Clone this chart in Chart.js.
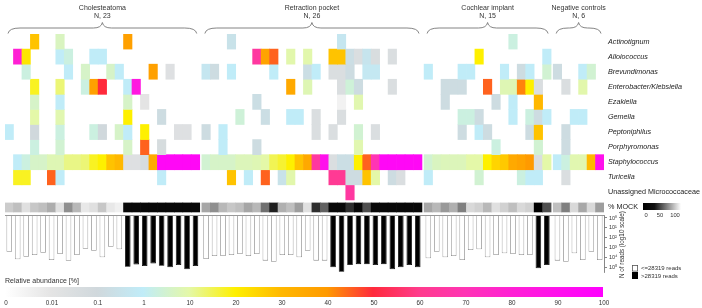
<!DOCTYPE html>
<html>
<head>
<meta charset="utf-8">
<script src="https://cdn.jsdelivr.net/npm/chart.js@4.4.1/dist/chart.umd.min.js"></script>
<style>
  html, body { margin: 0; padding: 0; background: #fff; }
  #wrap { width: 702px; height: 308px; }
</style>
</head>
<body>
<div id="wrap"><canvas id="chart" width="702" height="308"></canvas></div>
<script>
// Sample groups (columns, left to right)
const groupNames = ['Cholesteatoma', 'Retraction pocket', 'Cochlear implant', 'Negative controls'];
const groupSizes = [23, 26, 15, 6];

// Row labels
const taxa = ['Actinotignum', 'Alloiococcus', 'Brevundimonas', 'Enterobacter/Klebsiella', 'Ezakiella',
  'Gemella', 'Peptoniphilus', 'Porphyromonas', 'Staphylococcus', 'Turicella', 'Unassigned Micrococcaceae'];

// Relative abundance [%] per sample, one line per group
const actinotignum = [
  0, 0, 0, 28, 0, 0, 5, 0, 0, 0, 0, 0, 0, 0, 38, 0, 0, 0, 0, 0, 0, 0, 0,
  0, 0, 0, 0.3, 0, 0, 0, 0, 0, 0, 0, 0, 0, 0, 0, 0, 0.5, 0, 0, 0, 0, 0, 0, 0, 0, 0,
  0, 0, 0, 0, 0, 0, 0, 0, 0, 0, 2, 0, 0, 0, 0,
  0, 0, 0, 0, 0, 0];
const alloiococcus = [
  0, 80, 22, 0, 0, 0, 1, 2, 0, 0, 1, 1, 0, 0, 0, 0, 0, 0, 0, 0, 0, 0, 0,
  0, 0, 0, 0, 0, 0, 65, 37, 45, 0, 9, 0, 9, 0, 0, 28, 28, 0.2, 0.03, 0.4, 0.04, 0, 0.03, 0, 0, 0,
  0, 0, 0, 0, 0, 0, 20, 0, 0, 0, 0, 0, 0, 0, 1,
  0, 0, 0, 0, 0, 0];
const brevundimonas = [
  0, 0, 2, 0, 0, 0, 0, 1, 0, 4, 0, 0, 4, 1, 0, 0, 0, 38, 0, 0.02, 0, 0, 0,
  0.5, 0.15, 0, 1, 0, 0, 0, 0, 1, 0, 0, 0, 0.2, 1, 0, 0.03, 0.03, 0.15, 0, 0.6, 0.6, 0, 0, 0, 0, 0,
  1, 0, 0, 0, 1, 1, 0, 0, 0, 1, 0, 0.15, 1, 0, 3,
  0.15, 0, 0, 1, 3, 0];
const enterobacter = [
  0, 0, 0, 18, 0, 0, 13, 0, 0, 2, 38, 50, 0, 0, 1, 85, 0, 0, 0, 0, 0, 0, 0,
  0, 0, 0, 0, 0, 0, 0, 0, 0, 0, 35, 0, 7, 0, 0, 0, 0.03, 2.5, 0.15, 0, 0, 0, 0.03, 0, 0, 0,
  0, 0, 0.15, 0.15, 0.15, 0, 0, 45, 0, 7, 7, 42, 20, 0.03, 0,
  0, 0.03, 0, 9, 0, 0];
const ezakiella = [
  0, 0, 0, 4, 0, 0, 1, 0, 0, 0, 0, 0, 0, 0, 4, 0, 0.01, 0, 0, 0, 0, 0, 0,
  0, 0, 0, 0, 0, 0, 0.2, 0, 0, 0, 0, 0, 0, 0, 0, 0, 0.005, 0, 8, 0, 0, 0, 0, 0, 0, 0,
  0, 0, 0.15, 0, 0, 0, 0, 0, 0.15, 0, 1, 0, 0, 30, 0,
  0, 0, 0, 0, 0, 0];
const gemella = [
  0, 0, 0, 10, 0, 0, 8, 0, 0, 0, 0, 0, 0, 0, 20, 0, 0, 0, 0.15, 0, 0, 0, 0,
  0, 0, 0, 0, 2.5, 0, 0, 0.2, 0, 0, 1, 1, 0, 0.03, 0, 0, 0.03, 0, 0, 0, 0, 0, 0, 0, 0, 0,
  0, 0, 0, 0, 2, 2, 0.15, 0, 0, 0, 1, 0, 2, 0.15, 1,
  0, 0, 1, 1, 0, 0];
const peptoniphilus = [
  1, 0, 0, 0.1, 0, 0, 2, 0, 0, 0, 2, 0.1, 0, 4, 1, 0, 20, 0, 0, 0, 0.02, 0.02, 0,
  0.15, 0, 1, 0, 0, 0, 0, 0, 0, 0, 0, 0, 0, 0.03, 0, 0.03, 0, 0, 3, 0, 0.03, 0, 0, 0, 0, 0,
  0, 0, 0, 0, 0.15, 0, 1, 0.15, 0, 0, 0, 0, 0.15, 28, 0,
  0, 0.15, 0, 0, 0, 0];
const porphyromonas = [
  0, 0, 0, 2, 0, 0, 3, 0, 0, 0, 0, 0, 0, 0, 4, 0, 45, 0, 0.05, 0, 0, 0, 0,
  0, 0, 1, 0, 0, 0, 0.15, 0, 0, 0, 0, 0, 0, 0, 0, 0, 0, 0, 8, 0, 0, 0, 0, 0, 0, 0,
  0, 0, 0, 0, 0, 0, 0, 0, 2, 0, 0, 0, 0, 3, 0,
  0, 0.15, 0, 0, 0, 0];
const staphylococcus = [
  0, 1, 2, 4, 4, 7, 7, 12, 12, 13, 18, 20, 28, 30, 0.02, 0.02, 0.05, 35, 95, 95, 95, 95, 95,
  3, 4, 4, 4, 6, 6, 7, 10, 15, 17, 20, 28, 35, 65, 90, 0.03, 0.2, 0.2, 20, 45, 70, 95, 95, 95, 95, 95,
  3, 5, 6, 6, 6, 10, 10, 20, 25, 27, 35, 37, 40, 0.03, 10,
  1, 2, 8, 8, 30, 90];
const turicella = [
  0, 18, 18, 0, 0, 45, 1, 0, 0, 0, 0, 0, 0, 0, 0, 0, 0, 0, 1, 0, 0, 0, 0,
  0, 0, 0, 28, 0, 1, 0, 45, 0, 0.3, 9, 0, 0, 0, 0, 62, 62, 0.15, 0.15, 28, 10, 0, 0.15, 0.03, 0, 0,
  1, 0, 0, 0, 0, 0, 3, 0, 0, 0, 0, 2, 1, 1, 0,
  0, 0.03, 0, 0, 0, 0];
const micrococcaceae = [
  0, 0, 0, 0, 0, 0, 0, 0, 0, 0, 0, 0, 0, 0, 0, 0, 0, 0, 0, 0, 0, 0, 0,
  0, 0, 0, 0, 0, 0, 0, 0, 0, 0, 0, 0, 0, 0, 0, 0, 0, 65, 0, 0, 0, 0, 0, 0, 0, 0,
  0, 0, 0, 0, 0, 0, 0, 0, 0, 0, 0, 0, 0, 0, 0,
  0, 0, 0, 0, 0, 0];

// % MOCK per sample
const mockPct = [
  80, 75, 88, 78, 75, 68, 88, 56, 72, 91, 88, 78, 91, 94, 3, 3, 3, 3, 3, 3, 3, 3, 3,
  65, 56, 72, 78, 75, 65, 72, 44, 12, 69, 75, 62, 88, 18, 38, 3, 3, 18, 3, 31, 3, 3, 3, 3, 3, 3,
  65, 72, 60, 69, 50, 85, 82, 72, 88, 82, 75, 85, 82, 0, 31,
  75, 50, 85, 66, 85, 62];

// N of reads per sample
const reads = [
  2500, 14800, 8100, 5500, 3200, 17500, 4300, 20500, 5500, 1260, 2000, 9300, 790, 1450,
  83000, 48000, 71000, 38000, 66000, 95000, 56000, 152000, 71000,
  13800, 6900, 6900, 5500, 4300, 6900, 4300, 20000, 26000, 5500, 5500, 9300, 2000, 20000, 20000,
  95000, 260000, 56000, 45000, 45000, 56000, 45000, 150000, 95000, 56000, 95000,
  11800, 2500, 9300, 6900, 17500, 1700, 1450, 9300, 5500, 3700, 4300, 5500, 5500, 120000, 56000,
  20000, 26000, 3700, 17500, 2500, 17500];
const readThreshold = 28319;
const readTicks = [1, 10, 100, 1000, 10000, 100000];

// Colour scale
const abundanceTicks = ['0', '0.01', '0.1', '1', '10', '20', '30', '40', '50', '60', '70', '80', '90', '100'];
const abundanceColors = ['#ffffff', '#e4e4e4', '#d0d8dc', '#c0ecf8', '#e4f8a8', '#fef000', '#ffb800',
  '#ff9a00', '#ff2a3c', '#ff3c8c', '#ff34b4', '#ff20d4', '#ff10ec', '#ff00ff'];

const FONT = '"Liberation Sans", Arial, sans-serif';
const heatRows = [actinotignum, alloiococcus, brevundimonas, enterobacter, ezakiella, gemella,
  peptoniphilus, porphyromonas, staphylococcus, turicella, micrococcaceae];
const rowLabels = taxa.concat(['% MOCK']);
const mockRow = taxa.length;

// x position of each sample, small gap between groups
const colX = [];
groupSizes.forEach((n, g) => {
  for (let k = 0; k < n; k++) colX.push(colX.length + g * 0.25);
});

function hexToRgb(h) {
  const n = parseInt(h.slice(1), 16);
  return [(n >> 16) & 255, (n >> 8) & 255, n & 255];
}

// value -> position on the colour bar (0..13)
function abundancePos(v) {
  if (v <= 0) return 0;
  if (v < 0.01) return v / 0.01;
  if (v < 10) return 1 + Math.log10(v / 0.01);
  return Math.min(4 + (v - 10) / 10, 13);
}

function abundanceColor(v) {
  const t = abundancePos(v);
  const i = Math.min(Math.floor(t), abundanceColors.length - 2);
  const f = t - i;
  const a = hexToRgb(abundanceColors[i]);
  const b = hexToRgb(abundanceColors[i + 1]);
  const c = a.map((x, k) => Math.round(x + (b[k] - x) * f));
  return `rgb(${c[0]}, ${c[1]}, ${c[2]})`;
}

function mockColor(v) {
  const g = Math.round(255 * v / 100);
  return `rgb(${g}, ${g}, ${g})`;
}

// Heatmap rows as floating bars
const datasets = heatRows.map((vals, r) => {
  const pts = [];
  const colors = [];
  vals.forEach((v, n) => {
    if (v > 0) {
      pts.push({ x: colX[n], y: [r - 0.5, r + 0.5] });
      colors.push(abundanceColor(v));
    }
  });
  return {
    label: taxa[r],
    data: pts,
    backgroundColor: colors,
    yAxisID: 'y',
    grouped: false,
    barPercentage: 1,
    categoryPercentage: 1,
    borderWidth: 0,
  };
});

datasets.push({
  label: '% MOCK',
  data: mockPct.map((v, n) => ({ x: colX[n], y: [mockRow - 0.3, mockRow + 0.3] })),
  backgroundColor: mockPct.map(mockColor),
  yAxisID: 'y',
  grouped: false,
  barPercentage: 1,
  categoryPercentage: 1,
  borderWidth: 0,
});

const readsMin = 0.5;
datasets.push({
  label: 'N of reads',
  data: reads.map((v, n) => ({ x: colX[n], y: [readsMin, v] })),
  backgroundColor: reads.map((v) => (v > readThreshold ? '#000000' : '#ffffff')),
  borderColor: reads.map((v) => (v > readThreshold ? '#000000' : '#8a8a8a')),
  borderWidth: 0.8,
  borderSkipped: 'start',
  yAxisID: 'yr',
  grouped: false,
  barPercentage: 0.66,
  categoryPercentage: 1,
});

const sup = ['\u2070', '\u00b9', '\u00b2', '\u00b3', '\u2074', '\u2075'];

function drawBrace(ctx, x0, x1, yTop, yFlat, yBot) {
  const xm = (x0 + x1) / 2;
  ctx.beginPath();
  ctx.moveTo(x0, yBot);
  ctx.quadraticCurveTo(x0 + 1, yFlat, x0 + 12, yFlat);
  ctx.lineTo(xm - 9, yFlat);
  ctx.quadraticCurveTo(xm - 1, yFlat, xm, yTop);
  ctx.quadraticCurveTo(xm + 1, yFlat, xm + 9, yFlat);
  ctx.lineTo(x1 - 12, yFlat);
  ctx.quadraticCurveTo(x1 - 1, yFlat, x1, yBot);
  ctx.stroke();
}

// Headers, braces, legends and colour bar
const decorations = {
  id: 'decorations',
  afterDraw(chart) {
    const ctx = chart.ctx;
    const x = chart.scales.x;
    const yr = chart.scales.yr;
    const area = chart.chartArea;
    ctx.save();

    // group headers
    let start = 0;
    groupSizes.forEach((n, g) => {
      const left = x.getPixelForValue(colX[start] - 0.5);
      const right = x.getPixelForValue(colX[start + n - 1] + 0.5);
      const mid = (left + right) / 2;
      ctx.fillStyle = '#333';
      ctx.font = `7px ${FONT}`;
      ctx.textAlign = 'center';
      ctx.textBaseline = 'middle';
      ctx.fillText(groupNames[g], mid, 8);
      ctx.fillText(`N, ${n}`, mid, 16);
      ctx.strokeStyle = '#777';
      ctx.lineWidth = 0.9;
      drawBrace(ctx, left + 3, right - 3, 22.5, 28, 33.5);
      start += n;
    });

    // baseline of the read bars
    ctx.strokeStyle = '#999';
    ctx.lineWidth = 1;
    ctx.beginPath();
    ctx.moveTo(area.left, yr.top + 0.5);
    ctx.lineTo(area.right, yr.top + 0.5);
    ctx.stroke();

    // read axis title
    ctx.save();
    ctx.translate(622, (yr.top + yr.bottom) / 2 + 1);
    ctx.rotate(-Math.PI / 2);
    ctx.fillStyle = '#333';
    ctx.font = `6.3px ${FONT}`;
    ctx.textAlign = 'center';
    ctx.textBaseline = 'middle';
    ctx.fillText('N of reads (log10 scale)', 0, 0);
    ctx.restore();

    // read legend
    ctx.font = `6px ${FONT}`;
    ctx.textAlign = 'left';
    ctx.textBaseline = 'middle';
    ctx.fillStyle = '#fff';
    ctx.strokeStyle = '#555';
    ctx.lineWidth = 0.8;
    ctx.fillRect(632, 265, 6, 6.5);
    ctx.strokeRect(632.4, 265.4, 5.2, 5.7);
    ctx.fillStyle = '#000';
    ctx.fillRect(632, 272, 6, 7);
    ctx.fillStyle = '#333';
    ctx.fillText('<=28319 reads', 641, 268.5);
    ctx.fillText('>28319 reads', 641, 276);

    // MOCK legend
    const mg = ctx.createLinearGradient(643, 0, 681, 0);
    mg.addColorStop(0, '#000');
    mg.addColorStop(0.3, '#111');
    mg.addColorStop(1, '#fff');
    ctx.fillStyle = mg;
    ctx.fillRect(643, 203, 38, 7);
    ctx.fillStyle = '#333';
    ctx.font = `5.8px ${FONT}`;
    ctx.textAlign = 'center';
    ctx.fillText('0', 646, 215);
    ctx.fillText('50', 660, 215);
    ctx.fillText('100', 675, 215);

    // abundance colour bar
    const cbL = area.left;
    const cbR = area.right - 1;
    const cb = ctx.createLinearGradient(cbL, 0, cbR, 0);
    abundanceColors.forEach((c, i) => cb.addColorStop(i / (abundanceColors.length - 1), c));
    ctx.fillStyle = cb;
    ctx.fillRect(cbL, 287, cbR - cbL, 10);
    ctx.fillStyle = '#333';
    ctx.font = `7px ${FONT}`;
    ctx.textAlign = 'left';
    ctx.fillText('Relative abundance [%]', cbL, 281.5);
    ctx.font = `6.3px ${FONT}`;
    ctx.textAlign = 'center';
    abundanceTicks.forEach((t, i) => {
      const px = cbL + (cbR - cbL) * i / (abundanceTicks.length - 1);
      ctx.fillText(t, px + 1, 303);
    });
    ctx.restore();
  },
};

Chart.defaults.font.family = FONT;

new Chart(document.getElementById('chart'), {
  type: 'bar',
  data: { datasets },
  options: {
    responsive: false,
    animation: false,
    events: [],
    layout: { padding: { left: 5, top: 34, right: 0, bottom: 36 } },
    plugins: { legend: { display: false }, tooltip: { enabled: false } },
    scales: {
      x: {
        type: 'linear',
        display: false,
        offset: false,
        min: -0.5,
        max: colX[colX.length - 1] + 0.5,
        ticks: { stepSize: 10 },
      },
      y: {
        type: 'linear',
        position: 'right',
        stack: 'side',
        stackWeight: 181,
        reverse: true,
        min: -0.5,
        max: 11.5,
        afterBuildTicks: (s) => { s.ticks = rowLabels.map((_, i) => ({ value: i })); },
        afterFit: (s) => { s.width = 98; },
        grid: { display: false, drawTicks: false },
        border: { display: false },
        ticks: {
          autoSkip: false,
          padding: 4,
          color: '#222',
          font: (c) => ({ family: FONT, size: 7.2, style: c.index < 10 ? 'italic' : 'normal' }),
          callback: (v, i) => rowLabels[i],
        },
      },
      yr: {
        type: 'logarithmic',
        position: 'right',
        stack: 'side',
        stackWeight: 57,
        reverse: true,
        min: readsMin,
        max: 280000,
        afterBuildTicks: (s) => { s.ticks = readTicks.map((v) => ({ value: v })); },
        afterFit: (s) => { s.width = 98; },
        grid: { display: true, drawOnChartArea: false, drawTicks: true, tickLength: 3, color: '#555', lineWidth: 0.7 },
        border: { display: true, color: '#555', width: 0.7 },
        ticks: {
          autoSkip: false,
          padding: 2,
          color: '#333',
          font: { family: FONT, size: 5.5 },
          callback: (v) => '10' + sup[Math.round(Math.log10(v))],
        },
      },
    },
  },
  plugins: [decorations],
});
</script>
</body>
</html>
